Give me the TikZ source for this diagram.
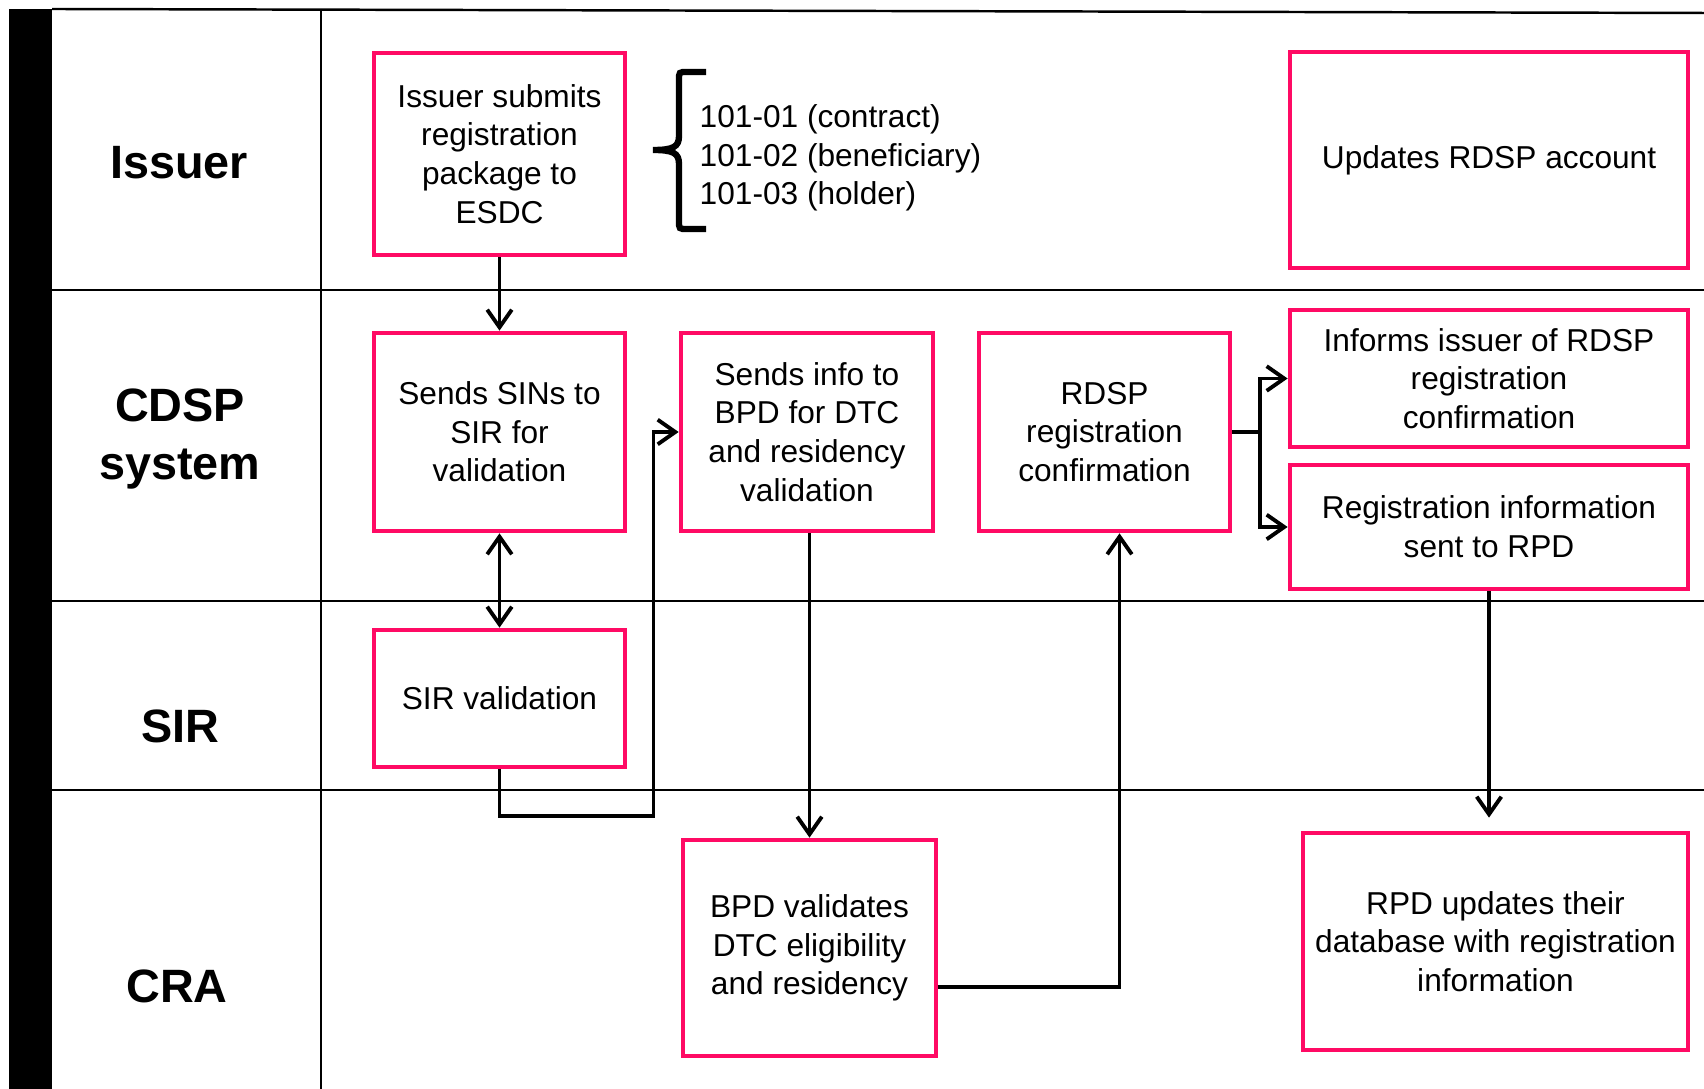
\documentclass[tikz,border=0pt]{standalone}
\usepackage{fontspec}
\setmainfont{Liberation Sans}
\usetikzlibrary{arrows.meta}
\definecolor{boxpink}{HTML}{FF0A64}

\begin{document}
\begin{tikzpicture}[x=0.01cm, y=-0.01cm,
        procbox/.style={draw=boxpink, line width=1.3pt, align=center, inner sep=2pt, font=\fontsize{9}{11}\selectfont},
        lanelabel/.style={align=center, font=\fontsize{13.3}{16.5}\selectfont\bfseries},
        laneline/.style={line width=0.7pt},
        flow/.style={-{Straight Barb[length=5pt,width=7pt]}, line width=1.1pt},
        flowboth/.style={{Straight Barb[length=5pt,width=7pt]}-{Straight Barb[length=5pt,width=7pt]}, line width=1.1pt}]
        \useasboundingbox (0,0) rectangle (1704,1089);

        % swimlanes
        \fill (9,9) rectangle (52,1089);
        \draw[laneline] (52,9) -- (1704,13);
        \foreach \y in {290,601,790}
            \draw[laneline] (52,\y) -- (1704,\y);
        \draw[laneline] (321,9) -- (321,1089);

        \node[lanelabel] (lIssuer) at (179,163) {Issuer};
        \node[lanelabel] (lCdsp) at (180,439) {CDSP\\system};
        \node[lanelabel] (lSir) at (180,726) {SIR};
        \node[lanelabel] (lCra) at (177,986) {CRA};

        % steps
        \node[procbox, minimum width=2.51cm, minimum height=2.02cm] (submit) at (499.5,154) {Issuer submits\\registration\\package to\\ESDC};
        \node[procbox, minimum width=3.98cm, minimum height=2.16cm] (updates) at (1489,160) {Updates RDSP account};
        \node[procbox, minimum width=2.51cm, minimum height=1.98cm] (sins) at (499.5,432) {Sends SINs to\\SIR for\\validation};
        \node[procbox, minimum width=2.52cm, minimum height=1.98cm] (info) at (807,432) {Sends info to\\BPD for DTC\\and residency\\validation};
        \node[procbox, minimum width=2.51cm, minimum height=1.98cm] (conf) at (1104.5,432) {RDSP\\registration\\confirmation};
        \node[procbox, minimum width=3.98cm, minimum height=1.37cm] (informs) at (1489,378.5) {Informs issuer of RDSP\\registration\\confirmation};
        \node[procbox, minimum width=3.98cm, minimum height=1.24cm] (reginfo) at (1489,527) {Registration information\\sent to RPD};
        \node[procbox, minimum width=2.51cm, minimum height=1.37cm] (sirval) at (499.5,698.5) {SIR validation};
        \node[procbox, minimum width=2.53cm, minimum height=2.16cm] (bpd) at (809.5,948) {BPD validates\\DTC eligibility\\and residency};
        \node[procbox, minimum width=3.85cm, minimum height=2.17cm] (rpd) at (1495.5,941.5) {RPD updates their\\database with registration\\information};

        % form list
        \draw[line width=1.8pt] (706,72) -- (687,72) .. controls (679,72) .. (679,80)
            -- (679,136) .. controls (679,147) and (673,150) .. (653,150)
            .. controls (673,150) and (679,153) .. (679,164)
            -- (679,221) .. controls (679,229) .. (687,229) -- (706,229);
        \node[anchor=west, align=left, inner sep=0pt, font=\fontsize{9}{11}\selectfont] (codes) at (699,158) {101-01 (contract)\\101-02 (beneficiary)\\101-03 (holder)};

        % flow
        \draw[flow] (submit.south) -- (sins.north);
        \draw[flowboth] (sins.south) -- (sirval.north);
        \draw[flow] (sirval.south) -- ++(0,47) -- ++(154,0) |- (info.west);
        \draw[flow] (info.south -| bpd.north) -- (bpd.north);
        \draw[flow] ([yshift=-0.39cm]bpd.east) -| ([xshift=0.15cm]conf.south);
        \draw[flow] (conf.east) -- ++(28,0) |- (informs.west);
        \draw[flow] (conf.east) -- ++(28,0) |- (reginfo.west);
        \draw[flow, shorten >=0.13cm] (reginfo.south) -- (reginfo.south |- rpd.north);
\end{tikzpicture}
\end{document}
